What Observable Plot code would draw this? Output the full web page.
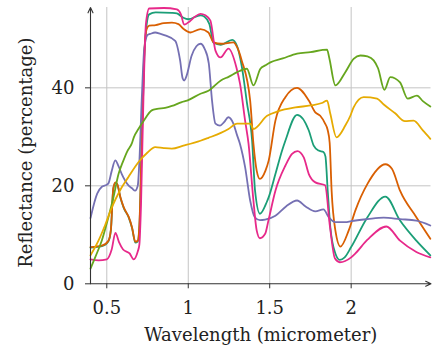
<!DOCTYPE html>
<html><head><meta charset="utf-8">
<script src="https://cdn.jsdelivr.net/npm/d3@7"></script>
<script src="https://cdn.jsdelivr.net/npm/@observablehq/plot@0.6"></script>
<style>html,body{margin:0;padding:0;background:#fff;}</style>
</head><body><div id="chart"></div>
<script>
const xTicks = [0.5, 1, 1.5, 2];
const yTicks = [0, 20, 40];
const xDomain = [0.4, 2.49];
const yDomain = [0, 56.4];
const xLabel = "Wavelength (micrometer)";
const yLabel = "Reflectance (percentage)";
const seriesNames = ["S1", "S2", "S3", "S4", "S5", "S6"];
const seriesColors = ["#1b9e77", "#d95f02", "#7570b3", "#e7298a", "#66a61e", "#e6ab02"];

const tealW = [0.40,0.47,0.51,0.525,0.54,0.553,0.565,0.585,0.604,0.635,0.655,0.675,0.69,0.70,0.715,0.73,0.745,0.76,0.80,0.90,0.93,0.97,1.00,1.075,1.10,1.13,1.155,1.20,1.27,1.30,1.328,1.36,1.392,1.41,1.44,1.482,1.494,1.535,1.576,1.596,1.668,1.74,1.77,1.80,1.83,1.842,1.856,1.872,1.903,1.93,1.96,2.00,2.10,2.21,2.30,2.40,2.486];
const tealR = [7.4,7.7,8.7,10.9,19.4,20.6,20.2,17.4,15.5,13.5,11.4,8.4,8.6,11.5,29,46,53,55,55.4,55.3,55.2,54.3,54.0,54.8,54.5,53,49.2,48.8,49.8,48.5,44.5,37,29.2,19,14.3,16.7,17.7,22.4,27.2,29.2,34.5,31.3,28.2,27.2,26.9,26,19,11.6,6.2,4.9,5.4,7.5,13.6,17.8,12.9,8.8,5.8];

const orangeW = [0.40,0.47,0.51,0.525,0.54,0.553,0.565,0.585,0.604,0.635,0.655,0.675,0.69,0.70,0.715,0.73,0.745,0.76,0.80,0.85,0.90,0.94,0.972,1.013,1.075,1.124,1.155,1.205,1.277,1.30,1.328,1.38,1.40,1.42,1.44,1.474,1.494,1.535,1.596,1.668,1.74,1.78,1.81,1.84,1.855,1.868,1.88,1.903,1.934,1.985,2.026,2.10,2.21,2.25,2.30,2.40,2.486];
const orangeR = [7.5,7.8,8.8,11,19.5,20.7,20.3,17.5,15.6,13.6,11.5,8.6,8.8,12,30,47,52,52.7,52.8,53.2,53.3,53,52,51.3,52,51.3,49.3,49,49.3,48.3,45.6,37.4,28.6,23.1,21.4,23.1,25.2,33.3,38.1,40,37.4,35,34.3,32.7,31.5,28.8,19,10.9,7.6,10.9,15,20.4,24.4,23.5,19,13.6,9.2];

const purpleW = [0.40,0.441,0.47,0.492,0.51,0.53,0.552,0.572,0.592,0.633,0.655,0.674,0.69,0.70,0.715,0.73,0.75,0.766,0.797,0.83,0.858,0.92,0.95,0.966,0.975,0.99,1.02,1.05,1.075,1.10,1.126,1.146,1.167,1.195,1.22,1.246,1.277,1.298,1.318,1.349,1.38,1.41,1.44,1.472,1.535,1.60,1.668,1.72,1.78,1.83,1.862,1.903,1.964,2.00,2.10,2.2,2.30,2.40,2.486];
const purpleR = [13.4,18.4,19.8,20.1,20.5,23,25.2,24,22.4,20.1,19.5,19,20,25,38,48,50.8,51,51.3,51,50.7,49.6,45.6,41.9,41.5,42.5,46.5,48.5,49,48,45,37.4,32.7,32.3,33,34,32.7,30.5,28.5,23.8,17,13.5,13,13.1,13.9,15.8,17,15.8,14.8,15.2,13.6,12.6,12.6,12.8,13.2,13.5,13.2,12.9,11.9];

const pinkW = [0.40,0.45,0.50,0.53,0.553,0.575,0.60,0.64,0.665,0.69,0.70,0.71,0.725,0.74,0.76,0.85,0.93,0.955,0.975,1.01,1.04,1.075,1.105,1.136,1.167,1.198,1.247,1.296,1.318,1.349,1.37,1.40,1.42,1.44,1.472,1.492,1.535,1.596,1.637,1.67,1.709,1.74,1.78,1.84,1.87,1.90,1.93,2.00,2.026,2.10,2.216,2.30,2.40,2.486];
const pinkR = [5,4.8,5,7,10.4,8.5,7,6.2,5,6.6,8,16,38,53,56.2,56.3,56,55,52.9,53.6,54.5,55.1,54.8,53.7,47.6,46.2,48,44.1,40.8,33.3,28.6,17,10.9,9.3,10.2,12.9,19,24.1,26.5,27.1,25.8,22.4,20.7,20.1,11.6,5.2,4.4,5.4,6.2,9,11.7,8.8,6.5,5.4];

const greenW = [0.40,0.43,0.469,0.51,0.54,0.572,0.60,0.625,0.653,0.666,0.694,0.727,0.776,0.809,0.858,0.90,0.96,0.993,1.075,1.124,1.2,1.25,1.30,1.36,1.40,1.443,1.474,1.504,1.58,1.668,1.75,1.852,1.865,1.903,1.964,2.015,2.056,2.10,2.138,2.165,2.204,2.24,2.30,2.347,2.404,2.44,2.486];
const greenR = [3.1,5.5,8.8,13.6,17.5,22.4,25,27,28.6,29.9,31.6,33.3,35.4,35.7,35.9,36.3,37.1,37.4,38.8,39.4,41.5,42.3,43.2,43.9,40.5,43.9,44.6,45.2,46,47,47.3,47.8,46.2,40.5,43.2,45.9,46.6,46.4,45.6,44,39.6,42.2,41.1,37.8,38.4,37.3,36.2];

const yellowW = [0.40,0.449,0.49,0.531,0.58,0.633,0.694,0.75,0.797,0.85,0.899,0.97,1.075,1.124,1.2,1.247,1.30,1.38,1.40,1.484,1.55,1.658,1.75,1.82,1.852,1.872,1.91,1.964,1.995,2.015,2.077,2.159,2.2,2.27,2.33,2.383,2.44,2.486];
const yellowR = [5.8,8.8,12,15.6,19,21.8,24.8,26.8,27.9,27.7,27.6,28.2,29.2,29.8,30.8,31.6,32.7,32.7,31.6,34.3,35.2,36,36.4,36.9,37.4,34.7,29.9,32.3,34.3,36,38.1,37.8,36.6,34.8,33.2,33.3,31.3,29.6];

const seriesW = [tealW, orangeW, purpleW, pinkW, greenW, yellowW];
const seriesR = [tealR, orangeR, purpleR, pinkR, greenR, yellowR];

const rows = seriesNames.flatMap((s, i) => seriesW[i].map((w, j) => ({s, w, r: seriesR[i][j]})));
const axisArrows = [
  {x1: xDomain[0], y1: yDomain[0], x2: xDomain[1], y2: yDomain[0]},
  {x1: xDomain[0], y1: yDomain[0], x2: xDomain[0], y2: yDomain[1]}
];

const ink = "#333";
const chart = Plot.plot({
  width: 433,
  height: 356,
  marginLeft: 90,
  marginRight: 2.5,
  marginTop: 7,
  marginBottom: 72.7,
  style: {fontFamily: "'DejaVu Serif', serif", fontSize: "18px", color: "#222", background: "#fff"},
  x: {domain: xDomain},
  y: {domain: yDomain},
  color: {domain: seriesNames, range: seriesColors},
  marks: [
    Plot.gridX(xTicks, {stroke: "#c4c4c4", strokeOpacity: 1, strokeWidth: 1}),
    Plot.gridY(yTicks.filter(d => d > 0), {stroke: "#c4c4c4", strokeOpacity: 1, strokeWidth: 1}),
    ...seriesNames.map(name => Plot.line(rows.filter(d => d.s === name), {
      x: "w", y: "r", stroke: "s", strokeWidth: 1.8, curve: "monotone-x"
    })),
    Plot.axisX(xTicks, {tickSize: 5, tickPadding: 12, label: null, stroke: ink, tickFormat: d => String(d)}),
    Plot.axisY(yTicks, {tickSize: 5, tickPadding: 11, label: null, stroke: ink, tickFormat: d => String(d)}),
    Plot.arrow(axisArrows, {x1: "x1", y1: "y1", x2: "x2", y2: "y2", stroke: ink, strokeWidth: 1.1, headLength: 8, headAngle: 50}),
    Plot.text([xLabel], {text: d => d, frameAnchor: "bottom", dy: 57, fill: "#222"}),
    Plot.text([yLabel], {text: d => d, frameAnchor: "left", textAnchor: "middle", rotate: -90, dx: -64, dy: 7, fill: "#222"})
  ]
});
document.getElementById("chart").appendChild(chart);
</script>
</body></html>
